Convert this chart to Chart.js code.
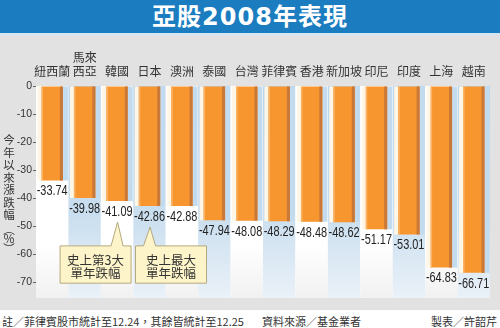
<!DOCTYPE html>
<html lang="zh-Hant">
<head>
<meta charset="UTF-8">
<title>亞股2008年表現</title>
<script src="https://cdn.jsdelivr.net/npm/chart.js@4/dist/chart.umd.min.js"></script>
<style>
  body { margin: 0; width: 500px; height: 328px; background: #fff; overflow: hidden;
         font-family: "Noto Sans CJK TC", "Noto Sans", sans-serif; color: #333; }
  #title { height: 33px; background: #1b7dc0; color: #fff; text-align: center;
           font: bold 24px "DejaVu Sans", "Noto Sans CJK TC", sans-serif; line-height: 35px; letter-spacing: 1px; }
  #sep { height: 2px; background: #d4e6f3; }
  #panel { height: 275px; background: #e2e2e2; }
  #footer { position: relative; height: 18px; font-size: 11px; }
  #footer span { position: absolute; top: 3px; white-space: nowrap; }
</style>
</head>
<body>
<div id="title">亞股2008年表現</div>
<div id="sep"></div>
<div id="panel"><canvas id="asiaChart" width="500" height="275"></canvas></div>
<div id="footer">
  <span style="left:2px">註／菲律賓股市統計至12.24，其餘皆統計至12.25</span>
  <span style="left:262px">資料來源／基金業者</span>
  <span style="left:431px">製表／許韶芹</span>
</div>
<script>
const categories = ['紐西蘭', ['馬來', '西亞'], '韓國', '日本', '澳洲', '泰國', '台灣', '菲律賓', '香港', '新加坡', '印尼', '印度', '上海', '越南'];
const changes = [-33.74, -39.98, -41.09, -42.86, -42.88, -47.94, -48.08, -48.29, -48.48, -48.62, -51.17, -53.01, -64.83, -66.71];
const yTicks = [0, -10, -20, -30, -40, -50, -60, -70];
const yTitle = ['今', '年', '以', '來', '漲', '跌', '幅', '︵', '%', '︶'];
const notes = [
    { index: 2, dx: -57, lines: ['史上第3大', '單年跌幅'] },
    { index: 3, dx: -14, lines: ['史上最大', '單年跌幅'] }
];

// column backgrounds + bar shadows
const backdrop = {
    id: 'backdrop',
    beforeDatasetsDraw(chart) {
        const { ctx, chartArea: a, scales: { x } } = chart;
        const w = a.width / categories.length;
        ctx.save();
        ctx.fillStyle = '#fff';
        ctx.fillRect(a.left, a.top, a.width, a.height);
        categories.forEach((c, i) => {
            const cx = x.getPixelForValue(i);
            const g = ctx.createLinearGradient(0, a.top, 0, a.bottom);
            if (i % 2) {
                g.addColorStop(0, '#bdd6eb');
                g.addColorStop(0.6, '#c9deef');
                g.addColorStop(1, '#eaf1f8');
            } else {
                g.addColorStop(0, '#ffffff');
                g.addColorStop(0.75, '#ffffff');
                g.addColorStop(1, '#f1f1f1');
            }
            ctx.fillStyle = g;
            ctx.fillRect(cx - w / 2, a.top, w, a.height);
        });
        chart.getDatasetMeta(0).data.forEach(bar => {
            ctx.fillStyle = '#c3dbee';
            ctx.fillRect(bar.x + bar.width / 2, bar.base, 5, bar.y - bar.base);
            ctx.fillStyle = '#fff6e6';
            ctx.fillRect(bar.x - bar.width / 2 - 4, bar.base, 4, bar.y - bar.base);
        });
        ctx.restore();
    }
};

const barDeco = {
    id: 'barDeco',
    afterDatasetsDraw(chart) {
        const { ctx, scales: { x, y } } = chart;
        const bars = chart.getDatasetMeta(0).data;
        ctx.save();
        bars.forEach((bar, i) => {
            ctx.fillStyle = '#c8793a';
            ctx.fillRect(bar.x + bar.width / 2 - 3, bar.base, 3, bar.y - bar.base);
            ctx.fillStyle = '#fbb467';
            ctx.fillRect(bar.x - bar.width / 2, bar.base, 1.5, bar.y - bar.base);
            // value label, slightly condensed
            ctx.save();
            ctx.translate(bar.x, bar.y + 11);
            ctx.scale(0.78, 1);
            ctx.font = '14px "Liberation Sans", Arial, sans-serif';
            ctx.fillStyle = '#222';
            ctx.textAlign = 'center';
            ctx.textBaseline = 'middle';
            ctx.fillText(changes[i].toFixed(2), 0, 0);
            ctx.restore();
        });
        // callout boxes
        notes.forEach(n => {
            const bar = bars[n.index];
            const cx = bar.x;
            const tipY = bar.y + 21;
            const left = cx + n.dx, right = left + 71;
            const top = y.getPixelForValue(-57.1), bottom = y.getPixelForValue(-70.4);
            ctx.beginPath();
            ctx.moveTo(left, top);
            ctx.lineTo(cx - 6, top);
            ctx.lineTo(cx + 0.5, tipY);
            ctx.lineTo(cx + 6, top);
            ctx.lineTo(right, top);
            ctx.lineTo(right, bottom);
            ctx.lineTo(left, bottom);
            ctx.closePath();
            ctx.fillStyle = '#fdf5c9';
            ctx.fill();
            ctx.strokeStyle = '#b5a97f';
            ctx.lineWidth = 1;
            ctx.stroke();
            ctx.fillStyle = '#333';
            ctx.font = '12.5px "Noto Sans CJK TC", sans-serif';
            ctx.textAlign = 'center';
            ctx.textBaseline = 'middle';
            n.lines.forEach((t, k) => ctx.fillText(t, (left + right) / 2, top + 14 + k * 13));
        });
        ctx.restore();
    },
    afterDraw(chart) {
        const { ctx } = chart;
        ctx.save();
        ctx.fillStyle = '#333';
        ctx.font = '11.5px "Noto Sans CJK TC", sans-serif';
        ctx.textAlign = 'center';
        ctx.textBaseline = 'middle';
        const ys = [105, 117.5, 130, 142.5, 155, 167.5, 180, 195, 204, 214];
        yTitle.forEach((ch, i) => ctx.fillText(ch, 9, ys[i]));
        ctx.restore();
    }
};

new Chart(document.getElementById('asiaChart'), {
    type: 'bar',
    data: {
        labels: categories,
        datasets: [{
            data: changes,
            backgroundColor: '#f7952e',
            borderWidth: 0,
            barPercentage: 0.66,
            categoryPercentage: 1
        }]
    },
    options: {
        responsive: false,
        animation: false,
        layout: { padding: { top: 11, bottom: 12, right: 10, left: 0 } },
        plugins: { legend: { display: false }, tooltip: { enabled: false } },
        scales: {
            x: {
                position: 'top',
                grid: { display: false, drawTicks: false },
                border: { display: false },
                ticks: {
                    autoSkip: false, maxRotation: 0, padding: 7, color: '#333',
                    font: { family: '"Noto Sans CJK TC", sans-serif', size: 12 }
                },
                afterFit: s => { s.height = 40; }
            },
            y: {
                min: -75.7,
                max: 0,
                afterBuildTicks: s => { s.ticks = yTicks.map(v => ({ value: v })); },
                grid: { drawOnChartArea: false, tickLength: 3, color: '#666' },
                border: { display: false },
                ticks: {
                    padding: 1, color: '#333',
                    font: { family: '"Liberation Sans", Arial, sans-serif', size: 10.5 }
                },
                afterFit: s => { s.width = 36; }
            }
        }
    },
    plugins: [backdrop, barDeco]
});
</script>
</body>
</html>
